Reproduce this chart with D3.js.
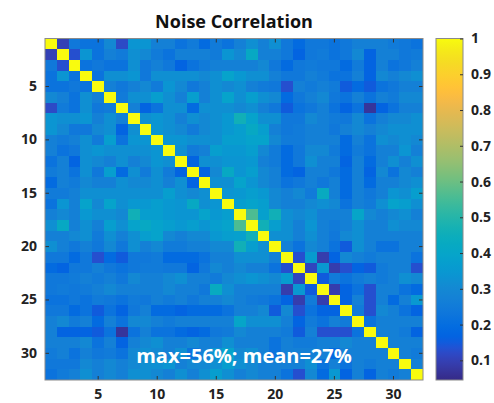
<!DOCTYPE html>
<html><head><meta charset="utf-8">
<script src="https://cdn.jsdelivr.net/npm/d3@7"></script>
<style>
html,body{margin:0;padding:0;background:#fff;}
svg{display:block;}
text{font-family:"Open Sans","Lato",sans-serif;}
</style></head>
<body>
<svg id="chart" width="494" height="403"></svg>
<script>
// ---- data ----
const categories = [1,2,3,4,5,6,7,8,9,10,11,12,13,14,15,16,17,18,19,20,21,22,23,24,25,26,27,28,29,30,31,32];
const axisTicks = [5,10,15,20,25,30];
const colorbarTicks = [0.1,0.2,0.3,0.4,0.5,0.6,0.7,0.8,0.9,1];
const colorLimits = [0.045, 1];
const diagonalValue = 1;
// lower triangle (row i, columns 0..i-1); matrix is symmetric
const lowerTriangle = [
 [],
 [0.1],
 [0.24,0.13],
 [0.22,0.34,0.22],
 [0.22,0.22,0.24,0.22],
 [0.3,0.27,0.22,0.32,0.27],
 [0.12,0.25,0.22,0.32,0.24,0.25],
 [0.34,0.32,0.32,0.34,0.27,0.32,0.27],
 [0.34,0.3,0.24,0.24,0.3,0.32,0.17,0.32],
 [0.27,0.25,0.27,0.32,0.25,0.37,0.22,0.34,0.34],
 [0.27,0.22,0.24,0.32,0.34,0.32,0.32,0.32,0.32,0.34],
 [0.22,0.27,0.17,0.32,0.3,0.27,0.32,0.27,0.3,0.34,0.32],
 [0.25,0.27,0.22,0.32,0.24,0.37,0.19,0.32,0.25,0.32,0.25,0.17],
 [0.19,0.27,0.25,0.3,0.27,0.27,0.32,0.3,0.3,0.32,0.27,0.32,0.17],
 [0.25,0.25,0.27,0.32,0.32,0.32,0.32,0.32,0.32,0.32,0.37,0.32,0.3,0.32],
 [0.22,0.34,0.27,0.39,0.3,0.39,0.32,0.35,0.35,0.37,0.35,0.34,0.42,0.32,0.34],
 [0.27,0.3,0.27,0.35,0.32,0.32,0.3,0.46,0.37,0.37,0.35,0.34,0.34,0.39,0.35,0.37],
 [0.32,0.42,0.27,0.32,0.27,0.37,0.32,0.39,0.42,0.39,0.37,0.35,0.37,0.34,0.37,0.39,0.56],
 [0.27,0.27,0.3,0.32,0.25,0.32,0.27,0.32,0.37,0.39,0.3,0.27,0.3,0.3,0.35,0.37,0.38,0.46],
 [0.32,0.27,0.24,0.27,0.24,0.3,0.24,0.32,0.27,0.3,0.25,0.25,0.27,0.27,0.3,0.3,0.46,0.37,0.32],
 [0.24,0.24,0.19,0.24,0.13,0.19,0.15,0.24,0.24,0.25,0.19,0.19,0.19,0.22,0.27,0.27,0.32,0.32,0.32,0.27],
 [0.19,0.17,0.24,0.24,0.27,0.24,0.22,0.24,0.25,0.25,0.24,0.24,0.17,0.24,0.3,0.27,0.3,0.27,0.27,0.22,0.13],
 [0.24,0.24,0.25,0.27,0.25,0.27,0.24,0.3,0.27,0.27,0.3,0.32,0.27,0.27,0.25,0.3,0.32,0.34,0.32,0.3,0.36,0.11],
 [0.24,0.25,0.24,0.25,0.27,0.3,0.27,0.27,0.27,0.27,0.3,0.27,0.27,0.24,0.43,0.32,0.27,0.27,0.27,0.27,0.09,0.35,0.15],
 [0.22,0.22,0.24,0.22,0.25,0.24,0.22,0.25,0.24,0.27,0.25,0.27,0.24,0.27,0.27,0.3,0.27,0.25,0.24,0.22,0.17,0.09,0.25,0.09],
 [0.24,0.24,0.19,0.22,0.15,0.22,0.17,0.24,0.27,0.19,0.19,0.17,0.19,0.19,0.19,0.22,0.27,0.27,0.3,0.15,0.3,0.13,0.22,0.17,0.17],
 [0.27,0.3,0.25,0.27,0.19,0.27,0.22,0.3,0.3,0.27,0.25,0.27,0.27,0.27,0.27,0.27,0.4,0.32,0.32,0.32,0.27,0.17,0.25,0.22,0.27,0.25],
 [0.27,0.17,0.17,0.17,0.15,0.22,0.07,0.22,0.27,0.22,0.22,0.19,0.17,0.19,0.24,0.25,0.3,0.27,0.27,0.27,0.25,0.15,0.27,0.13,0.13,0.13,0.22],
 [0.27,0.27,0.27,0.3,0.22,0.27,0.17,0.27,0.3,0.32,0.27,0.27,0.3,0.27,0.27,0.32,0.27,0.27,0.27,0.22,0.27,0.25,0.25,0.27,0.27,0.3,0.27,0.27],
 [0.25,0.27,0.22,0.27,0.24,0.25,0.22,0.3,0.32,0.3,0.27,0.32,0.22,0.27,0.34,0.39,0.3,0.32,0.27,0.22,0.27,0.27,0.27,0.27,0.19,0.27,0.27,0.27,0.27],
 [0.24,0.24,0.24,0.3,0.27,0.3,0.27,0.3,0.32,0.32,0.34,0.27,0.3,0.3,0.32,0.37,0.32,0.3,0.27,0.27,0.27,0.27,0.32,0.22,0.27,0.22,0.27,0.25,0.27,0.27],
 [0.22,0.25,0.27,0.32,0.27,0.3,0.27,0.32,0.32,0.3,0.27,0.32,0.27,0.32,0.37,0.32,0.27,0.3,0.27,0.27,0.22,0.13,0.3,0.19,0.35,0.17,0.27,0.17,0.27,0.25,0.27]
];
const titleText = "Noise Correlation";
const annotationText = "max=56%; mean=27%";

// ---- parula colormap (MATLAB, 64 entries) ----
const parula = [[0.2081,0.1663,0.5292],[0.2116,0.1898,0.5777],[0.2123,0.2138,0.6270],[0.2081,0.2386,0.6771],[0.1959,0.2645,0.7279],[0.1707,0.2919,0.7792],[0.1253,0.3242,0.8303],[0.0591,0.3598,0.8683],[0.0117,0.3875,0.8820],[0.0060,0.4086,0.8828],[0.0165,0.4266,0.8786],[0.0329,0.4430,0.8720],[0.0498,0.4586,0.8641],[0.0629,0.4737,0.8554],[0.0723,0.4887,0.8467],[0.0779,0.5040,0.8384],[0.0793,0.5200,0.8312],[0.0749,0.5375,0.8263],[0.0641,0.5570,0.8240],[0.0488,0.5772,0.8228],[0.0343,0.5966,0.8199],[0.0265,0.6137,0.8135],[0.0239,0.6287,0.8038],[0.0231,0.6418,0.7913],[0.0228,0.6535,0.7768],[0.0267,0.6642,0.7607],[0.0384,0.6743,0.7436],[0.0590,0.6838,0.7254],[0.0843,0.6928,0.7062],[0.1133,0.7015,0.6859],[0.1453,0.7098,0.6646],[0.1801,0.7177,0.6424],[0.2178,0.7250,0.6193],[0.2586,0.7317,0.5954],[0.3022,0.7376,0.5712],[0.3482,0.7424,0.5473],[0.3953,0.7459,0.5244],[0.4420,0.7481,0.5033],[0.4871,0.7491,0.4840],[0.5300,0.7491,0.4661],[0.5709,0.7485,0.4494],[0.6099,0.7473,0.4337],[0.6473,0.7456,0.4188],[0.6834,0.7435,0.4044],[0.7184,0.7411,0.3905],[0.7525,0.7384,0.3768],[0.7858,0.7356,0.3633],[0.8185,0.7327,0.3498],[0.8507,0.7299,0.3360],[0.8824,0.7274,0.3217],[0.9139,0.7258,0.3063],[0.9450,0.7261,0.2886],[0.9739,0.7314,0.2666],[0.9938,0.7455,0.2403],[0.9990,0.7653,0.2164],[0.9955,0.7861,0.1967],[0.9880,0.8066,0.1794],[0.9789,0.8271,0.1633],[0.9697,0.8481,0.1475],[0.9626,0.8705,0.1309],[0.9589,0.8949,0.1132],[0.9598,0.9218,0.0948],[0.9661,0.9514,0.0755],[0.9763,0.9831,0.0538]];
const parulaColors = parula.map(c => d3.rgb(c[0]*255, c[1]*255, c[2]*255).formatHex());

// build full matrix
const n = categories.length;
const cells = [];
for (let i = 0; i < n; i++) {
  for (let j = 0; j < n; j++) {
    let v;
    if (i === j) v = diagonalValue;
    else if (j < i) v = lowerTriangle[i][j];
    else v = lowerTriangle[j][i];
    cells.push({row: categories[i], col: categories[j], value: v});
  }
}

// ---- layout ----
const plot = {left: 45, right: 423, top: 38.5, bottom: 380};
const cbar = {left: 436, right: 463};
const svg = d3.select("#chart");

const x = d3.scaleBand().domain(categories).range([plot.left, plot.right]).padding(0);
const y = d3.scaleBand().domain(categories).range([plot.top, plot.bottom]).padding(0);
const colorScale = d3.scaleLinear()
  .domain(parulaColors.map((c, k) => colorLimits[0] + (colorLimits[1]-colorLimits[0]) * k / (parulaColors.length-1)))
  .range(parulaColors)
  .interpolate(d3.interpolateRgb)
  .clamp(true);

// cells
svg.append("g").selectAll("rect").data(cells).join("rect")
  .attr("x", d => x(d.col))
  .attr("y", d => y(d.row))
  .attr("width", x.bandwidth() + 0.3)
  .attr("height", y.bandwidth() + 0.3)
  .attr("fill", d => colorScale(d.value))
  .attr("shape-rendering", "crispEdges");

// axes
const xAxis = d3.axisBottom(x).tickValues(axisTicks).tickSizeInner(0).tickSizeOuter(0).tickPadding(9);
const yAxis = d3.axisLeft(y).tickValues(axisTicks).tickSizeInner(0).tickSizeOuter(0).tickPadding(8);
const gx = svg.append("g").attr("transform", `translate(0,${plot.bottom})`).call(xAxis);
const gy = svg.append("g").attr("transform", `translate(${plot.left},0)`).call(yAxis);
[gx, gy].forEach(g => {
  g.select(".domain").remove();
  g.selectAll("text").attr("font-size", 14).attr("font-weight", 700).attr("fill", "#222")
    .style("font-family", "'Open Sans',sans-serif");
});

// inner tick marks (MATLAB box style)
const tickLen = 4;
const tg = svg.append("g").attr("stroke", "#333").attr("stroke-width", 1);
axisTicks.forEach(v => {
  const px = x(v) + x.bandwidth()/2;
  const py = y(v) + y.bandwidth()/2;
  tg.append("line").attr("x1", px).attr("x2", px).attr("y1", plot.bottom).attr("y2", plot.bottom - tickLen);
  tg.append("line").attr("x1", px).attr("x2", px).attr("y1", plot.top).attr("y2", plot.top + tickLen);
  tg.append("line").attr("y1", py).attr("y2", py).attr("x1", plot.left).attr("x2", plot.left + tickLen);
  tg.append("line").attr("y1", py).attr("y2", py).attr("x1", plot.right).attr("x2", plot.right - tickLen);
});

// box
svg.append("rect").attr("x", plot.left).attr("y", plot.top)
  .attr("width", plot.right - plot.left).attr("height", plot.bottom - plot.top)
  .attr("fill", "none").attr("stroke", "#8a8a8a").attr("stroke-width", 1);

// title
svg.append("text").attr("x", (plot.left + plot.right)/2).attr("y", 28)
  .attr("text-anchor", "middle").attr("font-size", 18).attr("font-weight", 700)
  .attr("fill", "#111").text(titleText);

// annotation
svg.append("text").attr("x", 244).attr("y", 363)
  .attr("text-anchor", "middle").attr("font-size", 20).attr("font-weight", 700)
  .attr("fill", "#ffffff").text(annotationText);

// colorbar
const cy = d3.scaleLinear().domain(colorLimits).range([plot.bottom, plot.top]);
const defs = svg.append("defs");
const grad = defs.append("linearGradient").attr("id", "cbgrad")
  .attr("x1", 0).attr("y1", 1).attr("x2", 0).attr("y2", 0);
grad.selectAll("stop").data(parulaColors).join("stop")
  .attr("offset", (c, k) => k / (parulaColors.length - 1))
  .attr("stop-color", c => c);
svg.append("rect").attr("x", cbar.left).attr("y", plot.top)
  .attr("width", cbar.right - cbar.left).attr("height", plot.bottom - plot.top)
  .attr("fill", "url(#cbgrad)").attr("stroke", "#8a8a8a").attr("stroke-width", 1);
const cAxis = d3.axisRight(cy).tickValues(colorbarTicks).tickFormat(d3.format("")).tickSizeInner(-3).tickSizeOuter(0).tickPadding(8);
const gc = svg.append("g").attr("transform", `translate(${cbar.right},0)`).call(cAxis);
gc.select(".domain").remove();
gc.selectAll(".tick line").attr("stroke", "#333");
gc.selectAll("text").attr("font-size", 14).attr("font-weight", 700).attr("fill", "#222")
  .style("font-family", "'Open Sans',sans-serif");
</script>
</body></html>
